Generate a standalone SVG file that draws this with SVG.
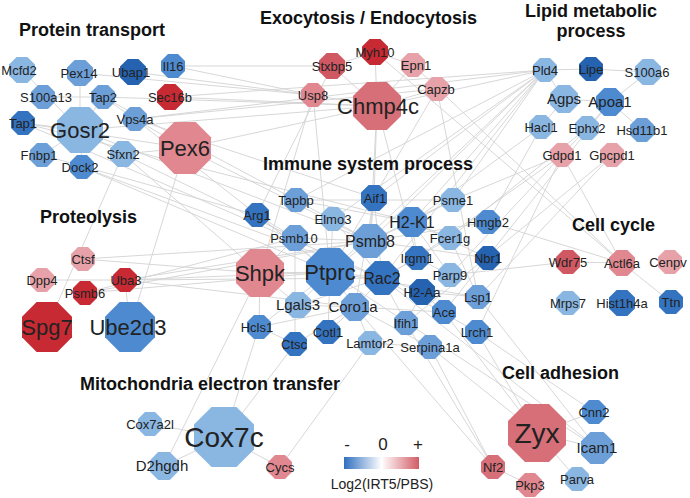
<svg xmlns="http://www.w3.org/2000/svg" width="690" height="498" viewBox="0 0 690 498">
<style>
text{font-family:"Liberation Sans",Arial,sans-serif;fill:#222;text-anchor:middle}
.t{font-size:13px}.tm{font-size:15px}.tl{font-size:16px}.tx{font-size:22px}.txx{font-size:28px}
.h{font-size:18px;font-weight:bold;fill:#111;text-anchor:start}
.hc{font-size:18px;font-weight:bold;fill:#111}
.b1{fill:#8ab6e2}.b2{fill:#6c9fd8}.b3{fill:#4d8ad0}.b4{fill:#3473bf}.b5{fill:#2562b0}
.r1{fill:#e7a2a9}.r2{fill:#e0878f}.r3{fill:#d76f78}.r4{fill:#d05863}.r5{fill:#c72a33}
#edges line{stroke:#d2d2d2;stroke-width:0.9}
</style>
<defs>
<linearGradient id="lg" x1="0" x2="1" y1="0" y2="0">
<stop offset="0" stop-color="#2f6fbf"/><stop offset="0.5" stop-color="#ffffff"/><stop offset="1" stop-color="#d25c66"/>
</linearGradient>
<polygon id="o12" points="-4.97,-12 4.97,-12 12,-4.97 12,4.97 4.97,12 -4.97,12 -12,4.97 -12,-4.97"/>
<polygon id="o13" points="-5.38,-13 5.38,-13 13,-5.38 13,5.38 5.38,13 -5.38,13 -13,5.38 -13,-5.38"/>
<polygon id="o14" points="-5.8,-14 5.8,-14 14,-5.8 14,5.8 5.8,14 -5.8,14 -14,5.8 -14,-5.8"/>
<polygon id="o15" points="-6.21,-15 6.21,-15 15,-6.21 15,6.21 6.21,15 -6.21,15 -15,6.21 -15,-6.21"/>
<polygon id="o16" points="-6.63,-16 6.63,-16 16,-6.63 16,6.63 6.63,16 -6.63,16 -16,6.63 -16,-6.63"/>
<polygon id="o17" points="-7.04,-17 7.04,-17 17,-7.04 17,7.04 7.04,17 -7.04,17 -17,7.04 -17,-7.04"/>
<polygon id="o23" points="-9.53,-23 9.53,-23 23,-9.53 23,9.53 9.53,23 -9.53,23 -23,9.53 -23,-9.53"/>
<polygon id="o24" points="-9.94,-24 9.94,-24 24,-9.94 24,9.94 9.94,24 -9.94,24 -24,9.94 -24,-9.94"/>
<polygon id="o25" points="-10.36,-25 10.36,-25 25,-10.36 25,10.36 10.36,25 -10.36,25 -25,10.36 -25,-10.36"/>
<polygon id="o26" points="-10.77,-26 10.77,-26 26,-10.77 26,10.77 10.77,26 -10.77,26 -26,10.77 -26,-10.77"/>
<polygon id="o29" points="-12.01,-29 12.01,-29 29,-12.01 29,12.01 12.01,29 -12.01,29 -29,12.01 -29,-12.01"/>
<polygon id="o30" points="-12.43,-30 12.43,-30 30,-12.43 30,12.43 12.43,30 -12.43,30 -30,12.43 -30,-12.43"/>
</defs>
<rect width="690" height="498" fill="#ffffff"/>
<g id="edges">
<line x1="22" y1="70" x2="80" y2="130"/><line x1="80" y1="73" x2="80" y2="130"/><line x1="103" y1="97" x2="80" y2="130"/>
<line x1="23" y1="123" x2="80" y2="130"/><line x1="42" y1="155" x2="80" y2="130"/><line x1="80" y1="130" x2="123" y2="154"/>
<line x1="80" y1="130" x2="82" y2="167"/><line x1="43" y1="97" x2="103" y2="97"/><line x1="103" y1="97" x2="135" y2="119"/>
<line x1="135" y1="119" x2="185" y2="148"/><line x1="123" y1="154" x2="185" y2="148"/><line x1="23" y1="123" x2="185" y2="148"/>
<line x1="173" y1="66" x2="332" y2="66"/><line x1="133" y1="72" x2="313" y2="95"/><line x1="170" y1="97" x2="377" y2="106"/>
<line x1="170" y1="97" x2="545" y2="70"/><line x1="135" y1="119" x2="545" y2="70"/><line x1="103" y1="97" x2="377" y2="106"/>
<line x1="80" y1="130" x2="370" y2="241"/><line x1="23" y1="123" x2="382" y2="278"/><line x1="103" y1="97" x2="296" y2="200"/>
<line x1="123" y1="154" x2="295" y2="238"/><line x1="82" y1="167" x2="382" y2="278"/><line x1="82" y1="167" x2="330" y2="272"/>
<line x1="135" y1="119" x2="330" y2="272"/><line x1="185" y1="148" x2="370" y2="241"/><line x1="185" y1="148" x2="130" y2="327"/>
<line x1="123" y1="154" x2="47" y2="327"/><line x1="135" y1="119" x2="374" y2="198"/><line x1="42" y1="155" x2="257" y2="215"/>
<line x1="185" y1="148" x2="545" y2="70"/><line x1="173" y1="66" x2="313" y2="95"/><line x1="80" y1="73" x2="313" y2="95"/>
<line x1="80" y1="130" x2="377" y2="106"/><line x1="23" y1="123" x2="412" y2="222"/><line x1="123" y1="154" x2="260" y2="273"/>
<line x1="135" y1="119" x2="437" y2="89"/>
<line x1="375" y1="52" x2="377" y2="106"/><line x1="375" y1="52" x2="332" y2="66"/><line x1="375" y1="52" x2="413" y2="65"/>
<line x1="332" y1="66" x2="377" y2="106"/><line x1="313" y1="95" x2="377" y2="106"/><line x1="413" y1="65" x2="377" y2="106"/>
<line x1="437" y1="89" x2="377" y2="106"/><line x1="375" y1="52" x2="622" y2="263"/><line x1="413" y1="65" x2="622" y2="263"/>
<line x1="377" y1="106" x2="374" y2="198"/><line x1="377" y1="106" x2="370" y2="241"/><line x1="377" y1="106" x2="417" y2="258"/>
<line x1="437" y1="89" x2="330" y2="272"/><line x1="313" y1="95" x2="330" y2="272"/><line x1="332" y1="66" x2="257" y2="215"/>
<line x1="437" y1="89" x2="478" y2="297"/><line x1="313" y1="95" x2="260" y2="273"/>
<line x1="545" y1="70" x2="591" y2="69"/><line x1="591" y1="69" x2="648" y2="72"/><line x1="545" y1="70" x2="564" y2="99"/>
<line x1="564" y1="99" x2="610" y2="102"/><line x1="610" y1="102" x2="642" y2="130"/><line x1="610" y1="102" x2="587" y2="128"/>
<line x1="564" y1="99" x2="541" y2="127"/><line x1="587" y1="128" x2="562" y2="155"/><line x1="545" y1="70" x2="453" y2="200"/>
<line x1="545" y1="70" x2="412" y2="222"/><line x1="545" y1="70" x2="382" y2="278"/><line x1="545" y1="70" x2="330" y2="272"/>
<line x1="545" y1="70" x2="370" y2="241"/><line x1="545" y1="70" x2="374" y2="198"/><line x1="545" y1="70" x2="296" y2="200"/>
<line x1="545" y1="70" x2="333" y2="219"/><line x1="610" y1="102" x2="444" y2="312"/><line x1="562" y1="155" x2="450" y2="275"/>
<line x1="562" y1="155" x2="417" y2="258"/><line x1="612" y1="155" x2="478" y2="297"/><line x1="562" y1="155" x2="477" y2="332"/>
<line x1="541" y1="127" x2="412" y2="222"/><line x1="587" y1="128" x2="450" y2="238"/><line x1="648" y1="72" x2="610" y2="102"/>
<line x1="562" y1="155" x2="622" y2="263"/><line x1="541" y1="127" x2="488" y2="222"/><line x1="612" y1="155" x2="406" y2="323"/>
<line x1="488" y1="222" x2="622" y2="263"/><line x1="568" y1="262" x2="450" y2="275"/><line x1="568" y1="262" x2="622" y2="263"/>
<line x1="622" y1="263" x2="671" y2="302"/><line x1="453" y1="200" x2="562" y2="155"/>
<line x1="42" y1="280" x2="125" y2="280"/><line x1="83" y1="259" x2="370" y2="241"/><line x1="125" y1="280" x2="330" y2="272"/>
<line x1="125" y1="280" x2="370" y2="241"/><line x1="85" y1="293" x2="370" y2="241"/><line x1="85" y1="293" x2="295" y2="238"/>
<line x1="83" y1="259" x2="260" y2="273"/><line x1="125" y1="280" x2="382" y2="278"/><line x1="130" y1="327" x2="125" y2="280"/>
<line x1="85" y1="293" x2="330" y2="272"/><line x1="125" y1="280" x2="355" y2="307"/>
<line x1="150" y1="424" x2="224" y2="437"/><line x1="164" y1="466" x2="224" y2="437"/><line x1="224" y1="437" x2="280" y2="467"/>
<line x1="164" y1="466" x2="260" y2="273"/><line x1="224" y1="437" x2="295" y2="344"/><line x1="224" y1="437" x2="259" y2="327"/>
<line x1="280" y1="467" x2="370" y2="343"/>
<line x1="537" y1="433" x2="594" y2="412"/><line x1="537" y1="433" x2="597" y2="448"/><line x1="537" y1="433" x2="577" y2="479"/>
<line x1="493" y1="467" x2="530" y2="485"/><line x1="477" y1="332" x2="537" y2="433"/><line x1="478" y1="297" x2="597" y2="448"/>
<line x1="430" y1="347" x2="537" y2="433"/><line x1="493" y1="467" x2="355" y2="307"/><line x1="493" y1="467" x2="406" y2="323"/>
<line x1="597" y1="448" x2="330" y2="272"/><line x1="597" y1="448" x2="382" y2="278"/><line x1="594" y1="412" x2="477" y2="332"/>
<line x1="537" y1="433" x2="444" y2="312"/><line x1="493" y1="467" x2="430" y2="347"/>
<line x1="330" y1="272" x2="382" y2="278"/><line x1="330" y1="272" x2="370" y2="241"/><line x1="330" y1="272" x2="355" y2="307"/>
<line x1="330" y1="272" x2="298" y2="305"/><line x1="330" y1="272" x2="259" y2="327"/><line x1="330" y1="272" x2="328" y2="332"/>
<line x1="330" y1="272" x2="257" y2="215"/><line x1="330" y1="272" x2="333" y2="219"/><line x1="330" y1="272" x2="260" y2="273"/>
<line x1="370" y1="241" x2="295" y2="238"/><line x1="370" y1="241" x2="412" y2="222"/><line x1="370" y1="241" x2="296" y2="200"/>
<line x1="370" y1="241" x2="453" y2="200"/><line x1="370" y1="241" x2="374" y2="198"/><line x1="382" y1="278" x2="355" y2="307"/>
<line x1="382" y1="278" x2="417" y2="258"/><line x1="382" y1="278" x2="422" y2="292"/><line x1="382" y1="278" x2="374" y2="198"/>
<line x1="412" y1="222" x2="296" y2="200"/><line x1="412" y1="222" x2="417" y2="258"/><line x1="412" y1="222" x2="450" y2="238"/>
<line x1="412" y1="222" x2="453" y2="200"/><line x1="422" y1="292" x2="444" y2="312"/><line x1="422" y1="292" x2="478" y2="297"/>
<line x1="450" y1="238" x2="478" y2="297"/><line x1="406" y1="323" x2="382" y2="278"/><line x1="355" y1="307" x2="370" y2="343"/>
<line x1="355" y1="307" x2="298" y2="305"/><line x1="259" y1="327" x2="295" y2="344"/><line x1="328" y1="332" x2="355" y2="307"/>
<line x1="450" y1="275" x2="417" y2="258"/><line x1="450" y1="275" x2="412" y2="222"/><line x1="488" y1="258" x2="370" y2="241"/>
<line x1="488" y1="222" x2="370" y2="241"/><line x1="477" y1="332" x2="382" y2="278"/><line x1="430" y1="347" x2="355" y2="307"/>
<line x1="295" y1="344" x2="295" y2="238"/><line x1="370" y1="343" x2="430" y2="347"/><line x1="260" y1="273" x2="295" y2="238"/>
<line x1="260" y1="273" x2="298" y2="305"/><line x1="260" y1="273" x2="259" y2="327"/><line x1="257" y1="215" x2="295" y2="238"/>
<line x1="333" y1="219" x2="382" y2="278"/><line x1="374" y1="198" x2="355" y2="307"/><line x1="478" y1="297" x2="330" y2="272"/>
<line x1="444" y1="312" x2="355" y2="307"/><line x1="453" y1="200" x2="296" y2="200"/><line x1="259" y1="327" x2="355" y2="307"/>
<line x1="295" y1="344" x2="355" y2="307"/><line x1="298" y1="305" x2="382" y2="278"/><line x1="422" y1="292" x2="406" y2="323"/>
<line x1="450" y1="238" x2="382" y2="278"/><line x1="488" y1="258" x2="412" y2="222"/>
</g>
<g id="titles">
<text class="h" x="19" y="36">Protein transport</text>
<text class="h" x="260" y="24">Exocytosis / Endocytosis</text>
<text class="hc" x="591" y="17">Lipid metabolic</text>
<text class="hc" x="591" y="37">process</text>
<text class="h" x="263" y="170">Immune system process</text>
<text class="h" x="40" y="223">Proteolysis</text>
<text class="h" x="572" y="231">Cell cycle</text>
<text class="h" x="80" y="390">Mitochondria electron transfer</text>
<text class="h" x="502" y="379">Cell adhesion</text>
</g>
<g id="n-Mcfd2"><use href="#o13" x="22" y="70" class="b1"/><text class="t" x="19" y="74.5">Mcfd2</text></g>
<g id="n-Pex14"><use href="#o13" x="80" y="73" class="b2"/><text class="t" x="79" y="77.5">Pex14</text></g>
<g id="n-Ubap1"><use href="#o13" x="133" y="72" class="b5"/><text class="t" x="131" y="76.5">Ubap1</text></g>
<g id="n-Il16"><use href="#o12" x="173" y="66" class="b3"/><text class="t" x="173" y="70.5">Il16</text></g>
<g id="n-S100a13"><use href="#o12" x="43" y="97" class="b2"/><text class="t" x="46" y="101.5">S100a13</text></g>
<g id="n-Tap2"><use href="#o12" x="103" y="97" class="b2"/><text class="t" x="103" y="101.5">Tap2</text></g>
<g id="n-Sec16b"><use href="#o13" x="170" y="97" class="r5"/><text class="t" x="170" y="101.5">Sec16b</text></g>
<g id="n-Vps4a"><use href="#o12" x="135" y="119" class="b2"/><text class="t" x="135" y="123.5">Vps4a</text></g>
<g id="n-Tap1"><use href="#o12" x="23" y="123" class="b4"/><text class="t" x="23" y="127.5">Tap1</text></g>
<g id="n-Gosr2"><use href="#o23" x="80" y="130" class="b1"/><text class="tx" x="80" y="137.5">Gosr2</text></g>
<g id="n-Fnbp1"><use href="#o12" x="42" y="155" class="b2"/><text class="t" x="39" y="159.5">Fnbp1</text></g>
<g id="n-Sfxn2"><use href="#o13" x="123" y="154" class="b1"/><text class="t" x="123" y="158.5">Sfxn2</text></g>
<g id="n-Dock2"><use href="#o12" x="82" y="167" class="b3"/><text class="t" x="80" y="171.5">Dock2</text></g>
<g id="n-Pex6"><use href="#o26" x="185" y="148" class="r2"/><text class="tx" x="185" y="156">Pex6</text></g>
<g id="n-Myh10"><use href="#o13" x="375" y="52" class="r5"/><text class="t" x="375" y="56.5">Myh10</text></g>
<g id="n-Stxbp5"><use href="#o13" x="332" y="66" class="r4"/><text class="t" x="332" y="70.5">Stxbp5</text></g>
<g id="n-Epn1"><use href="#o12" x="413" y="65" class="r1"/><text class="t" x="416" y="69.5">Epn1</text></g>
<g id="n-Usp8"><use href="#o12" x="313" y="95" class="r2"/><text class="t" x="313" y="99.5">Usp8</text></g>
<g id="n-Capzb"><use href="#o12" x="437" y="89" class="r1"/><text class="t" x="436" y="93.5">Capzb</text></g>
<g id="n-Chmp4c"><use href="#o24" x="377" y="106" class="r3"/><text class="tx" x="378" y="114">Chmp4c</text></g>
<g id="n-Pld4"><use href="#o12" x="545" y="70" class="b1"/><text class="t" x="545" y="74.5">Pld4</text></g>
<g id="n-Lipe"><use href="#o12" x="591" y="69" class="b5"/><text class="t" x="591" y="73.5">Lipe</text></g>
<g id="n-S100a6"><use href="#o13" x="648" y="72" class="b1"/><text class="t" x="647" y="76.5">S100a6</text></g>
<g id="n-Agps"><use href="#o14" x="564" y="99" class="b1"/><text class="tm" x="564" y="104">Agps</text></g>
<g id="n-Apoa1"><use href="#o14" x="610" y="102" class="b3"/><text class="tm" x="610" y="107">Apoa1</text></g>
<g id="n-Hacl1"><use href="#o12" x="541" y="127" class="b1"/><text class="t" x="541" y="131.5">Hacl1</text></g>
<g id="n-Ephx2"><use href="#o12" x="587" y="128" class="b1"/><text class="t" x="587" y="132.5">Ephx2</text></g>
<g id="n-Hsd11b1"><use href="#o12" x="642" y="130" class="b2"/><text class="t" x="642" y="134.5">Hsd11b1</text></g>
<g id="n-Gdpd1"><use href="#o12" x="562" y="155" class="r1"/><text class="t" x="562" y="159.5">Gdpd1</text></g>
<g id="n-Gpcpd1"><use href="#o12" x="612" y="155" class="r1"/><text class="t" x="612" y="159.5">Gpcpd1</text></g>
<g id="n-Ctsf"><use href="#o12" x="83" y="259" class="r1"/><text class="t" x="83" y="263.5">Ctsf</text></g>
<g id="n-Dpp4"><use href="#o12" x="42" y="280" class="r1"/><text class="t" x="42" y="284.5">Dpp4</text></g>
<g id="n-Uba3"><use href="#o12" x="125" y="280" class="r5"/><text class="t" x="126" y="284.5">Uba3</text></g>
<g id="n-Psmb6"><use href="#o12" x="85" y="293" class="r5"/><text class="t" x="85" y="297.5">Psmb6</text></g>
<g id="n-Spg7"><use href="#o25" x="47" y="327" class="r5"/><text class="tx" x="47" y="335">Spg7</text></g>
<g id="n-Ube2d3"><use href="#o25" x="130" y="327" class="b3"/><text class="tx" x="128" y="335">Ube2d3</text></g>
<g id="n-Cox7a2l"><use href="#o12" x="150" y="424" class="b1"/><text class="t" x="150" y="428.5">Cox7a2l</text></g>
<g id="n-D2hgdh"><use href="#o14" x="164" y="466" class="b1"/><text class="tm" x="162" y="471">D2hgdh</text></g>
<g id="n-Cox7c"><use href="#o30" x="224" y="437" class="b1"/><text class="txx" x="224" y="447">Cox7c</text></g>
<g id="n-Cycs"><use href="#o12" x="280" y="467" class="r2"/><text class="t" x="280" y="471.5">Cycs</text></g>
<g id="n-Zyx"><use href="#o29" x="537" y="433" class="r3"/><text class="txx" x="537" y="443">Zyx</text></g>
<g id="n-Cnn2"><use href="#o12" x="594" y="412" class="b3"/><text class="t" x="594" y="416.5">Cnn2</text></g>
<g id="n-Icam1"><use href="#o16" x="597" y="448" class="b2"/><text class="tm" x="597" y="453">Icam1</text></g>
<g id="n-Nf2"><use href="#o12" x="493" y="467" class="r3"/><text class="t" x="493" y="471.5">Nf2</text></g>
<g id="n-Pkp3"><use href="#o12" x="530" y="485" class="r2"/><text class="t" x="530" y="489.5">Pkp3</text></g>
<g id="n-Parva"><use href="#o12" x="577" y="479" class="b1"/><text class="t" x="577" y="483.5">Parva</text></g>
<g id="n-Wdr75"><use href="#o12" x="568" y="262" class="r4"/><text class="t" x="568" y="266.5">Wdr75</text></g>
<g id="n-Actl6a"><use href="#o13" x="622" y="263" class="r2"/><text class="t" x="622" y="267.5">Actl6a</text></g>
<g id="n-Cenpv"><use href="#o12" x="670" y="262" class="r1"/><text class="t" x="668" y="266.5">Cenpv</text></g>
<g id="n-Mrps7"><use href="#o12" x="568" y="303" class="b1"/><text class="t" x="568" y="307.5">Mrps7</text></g>
<g id="n-Hist1h4a"><use href="#o13" x="622" y="303" class="b4"/><text class="t" x="622" y="307.5">Hist1h4a</text></g>
<g id="n-Ttn"><use href="#o12" x="671" y="302" class="b4"/><text class="t" x="671" y="306.5">Ttn</text></g>
<g id="n-Tapbp"><use href="#o12" x="296" y="200" class="b2"/><text class="t" x="296" y="204.5">Tapbp</text></g>
<g id="n-Aif1"><use href="#o13" x="374" y="198" class="b4"/><text class="t" x="375" y="202.5">Aif1</text></g>
<g id="n-Psme1"><use href="#o12" x="453" y="200" class="b1"/><text class="t" x="453" y="204.5">Psme1</text></g>
<g id="n-Arg1"><use href="#o12" x="257" y="215" class="b4"/><text class="t" x="257" y="219.5">Arg1</text></g>
<g id="n-Elmo3"><use href="#o12" x="333" y="219" class="b1"/><text class="t" x="333" y="223.5">Elmo3</text></g>
<g id="n-H2-K1"><use href="#o15" x="412" y="222" class="b3"/><text class="tl" x="412" y="227.5">H2-K1</text></g>
<g id="n-Hmgb2"><use href="#o12" x="488" y="222" class="b3"/><text class="t" x="488" y="226.5">Hmgb2</text></g>
<g id="n-Psmb10"><use href="#o13" x="295" y="238" class="b2"/><text class="t" x="294" y="242.5">Psmb10</text></g>
<g id="n-Psmb8"><use href="#o17" x="370" y="241" class="b2"/><text class="tl" x="370" y="246.5">Psmb8</text></g>
<g id="n-Fcer1g"><use href="#o12" x="450" y="238" class="b1"/><text class="t" x="450" y="242.5">Fcer1g</text></g>
<g id="n-Irgm1"><use href="#o12" x="417" y="258" class="b4"/><text class="t" x="417" y="262.5">Irgm1</text></g>
<g id="n-Nbr1"><use href="#o12" x="488" y="258" class="b5"/><text class="t" x="488" y="262.5">Nbr1</text></g>
<g id="n-Shpk"><use href="#o24" x="260" y="273" class="r2"/><text class="tx" x="260" y="281">Shpk</text></g>
<g id="n-Ptprc"><use href="#o24" x="330" y="272" class="b3"/><text class="tx" x="330" y="280">Ptprc</text></g>
<g id="n-Rac2"><use href="#o17" x="382" y="278" class="b4"/><text class="tl" x="382" y="283.5">Rac2</text></g>
<g id="n-Parp9"><use href="#o12" x="450" y="275" class="b1"/><text class="t" x="450" y="279.5">Parp9</text></g>
<g id="n-H2-Aa"><use href="#o13" x="422" y="292" class="b5"/><text class="t" x="422" y="296.5">H2-Aa</text></g>
<g id="n-Lgals3"><use href="#o13" x="298" y="305" class="b1"/><text class="tm" x="298" y="310">Lgals3</text></g>
<g id="n-Coro1a"><use href="#o14" x="355" y="307" class="b2"/><text class="tm" x="353" y="312">Coro1a</text></g>
<g id="n-Ace"><use href="#o12" x="444" y="312" class="b3"/><text class="t" x="444" y="316.5">Ace</text></g>
<g id="n-Lsp1"><use href="#o12" x="478" y="297" class="b2"/><text class="t" x="478" y="301.5">Lsp1</text></g>
<g id="n-Lrch1"><use href="#o12" x="477" y="332" class="b3"/><text class="t" x="477" y="336.5">Lrch1</text></g>
<g id="n-Ifih1"><use href="#o12" x="406" y="323" class="b2"/><text class="t" x="406" y="327.5">Ifih1</text></g>
<g id="n-Serpina1a"><use href="#o12" x="430" y="347" class="b2"/><text class="t" x="430" y="351.5">Serpina1a</text></g>
<g id="n-Hcls1"><use href="#o12" x="259" y="327" class="b3"/><text class="t" x="257" y="331.5">Hcls1</text></g>
<g id="n-Ctsc"><use href="#o12" x="295" y="344" class="b4"/><text class="t" x="294" y="348.5">Ctsc</text></g>
<g id="n-Cotl1"><use href="#o12" x="328" y="332" class="b4"/><text class="t" x="328" y="336.5">Cotl1</text></g>
<g id="n-Lamtor2"><use href="#o12" x="370" y="343" class="b1"/><text class="t" x="370" y="347.5">Lamtor2</text></g>
<g id="legend">
<text x="347" y="450" style="font-size:17px">-</text>
<text x="383" y="450" style="font-size:17px">0</text>
<text x="418" y="450" style="font-size:17px">+</text>
<rect x="344" y="457" width="75" height="12" fill="url(#lg)"/>
<text x="382" y="489" style="font-size:14px">Log2(IRT5/PBS)</text>
</g>
</svg>
